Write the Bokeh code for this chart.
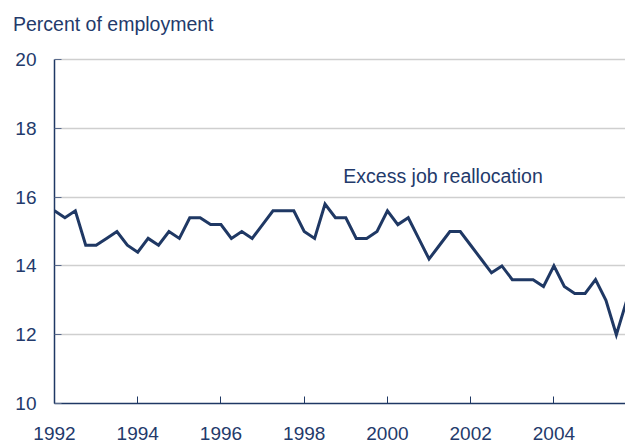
from bokeh.plotting import figure
from bokeh.models import Range1d, FixedTicker, Label
from bokeh.embed import file_html
from bokeh.resources import INLINE

# ---- data (quarterly) ----
years = list(range(1992, 2006))
quarters_per_year = 4
excess_job_reallocation = [
    15.6, 15.4, 15.6, 14.6,   # 1992
    14.6, 14.8, 15.0, 14.6,   # 1993
    14.4, 14.8, 14.6, 15.0,   # 1994
    14.8, 15.4, 15.4, 15.2,   # 1995
    15.2, 14.8, 15.0, 14.8,   # 1996
    15.2, 15.6, 15.6, 15.6,   # 1997
    15.0, 14.8, 15.8, 15.4,   # 1998
    15.4, 14.8, 14.8, 15.0,   # 1999
    15.6, 15.2, 15.4, 14.8,   # 2000
    14.2, 14.6, 15.0, 15.0,   # 2001
    14.6, 14.2, 13.8, 14.0,   # 2002
    13.6, 13.6, 13.6, 13.4,   # 2003
    14.0, 13.4, 13.2, 13.2,   # 2004
    13.6, 13.0, 12.0, 13.0,   # 2005
]
x_ticks = [1992, 1994, 1996, 1998, 2000, 2002, 2004]
y_ticks = [10, 12, 14, 16, 18, 20]
title_text = "Percent of employment"
series_label = "Excess job reallocation"

dates = [y + q / quarters_per_year for y in years for q in range(quarters_per_year)]

NAVY = "#1f3864"
TEXT = "#233a6b"
FONT = "Liberation Sans"

# frame reaches a little above 20 so the title can sit higher;
# the left axis line is bounded to 10..20
p = figure(width=625, height=443, output_backend="svg", toolbar_location=None,
           x_range=Range1d(1992, 2005.72), y_range=Range1d(10, 20.727),
           min_border_left=54, min_border_right=0, min_border_top=34,
           min_border_bottom=40)
p.outline_line_color = None
p.background_fill_color = "white"
p.border_fill_color = "white"

p.line(dates, excess_job_reallocation, line_color=NAVY, line_width=3,
       line_join="miter")

# axes
for ax in (p.xaxis, p.yaxis):
    ax.axis_line_color = NAVY
    ax.axis_line_width = 1.5
    ax.major_tick_line_color = NAVY
    ax.major_tick_line_width = 1
    ax.major_tick_in = 7
    ax.major_tick_out = 0
    ax.minor_tick_line_color = None
    ax.major_label_text_font = FONT
    ax.major_label_text_font_size = "19px"
    ax.major_label_text_color = TEXT

p.xaxis.ticker = FixedTicker(ticks=x_ticks)
p.yaxis.ticker = FixedTicker(ticks=y_ticks)
p.yaxis.bounds = (min(y_ticks), max(y_ticks))
p.xaxis.major_label_standoff = 23
p.yaxis.major_label_standoff = 18
p.yaxis.major_tick_line_color = "#5a6b8c"

p.xgrid.grid_line_color = None
p.ygrid.grid_line_color = "#cfcfcf"
p.ygrid.grid_line_width = 1.5

# title
p.title.text = title_text
p.title.align = "left"
p.title.offset = -41.5
p.title.text_font = FONT
p.title.text_font_size = "19.5px"
p.title.text_font_style = "normal"
p.title.text_color = TEXT
p.title.standoff = 0

# series label
p.add_layout(Label(x=1998.94, y=16.6, text=series_label, text_font=FONT,
                   text_font_size="19.5px", text_color=TEXT,
                   text_baseline="alphabetic"))

open("out.html", "w").write(file_html(p, INLINE))
